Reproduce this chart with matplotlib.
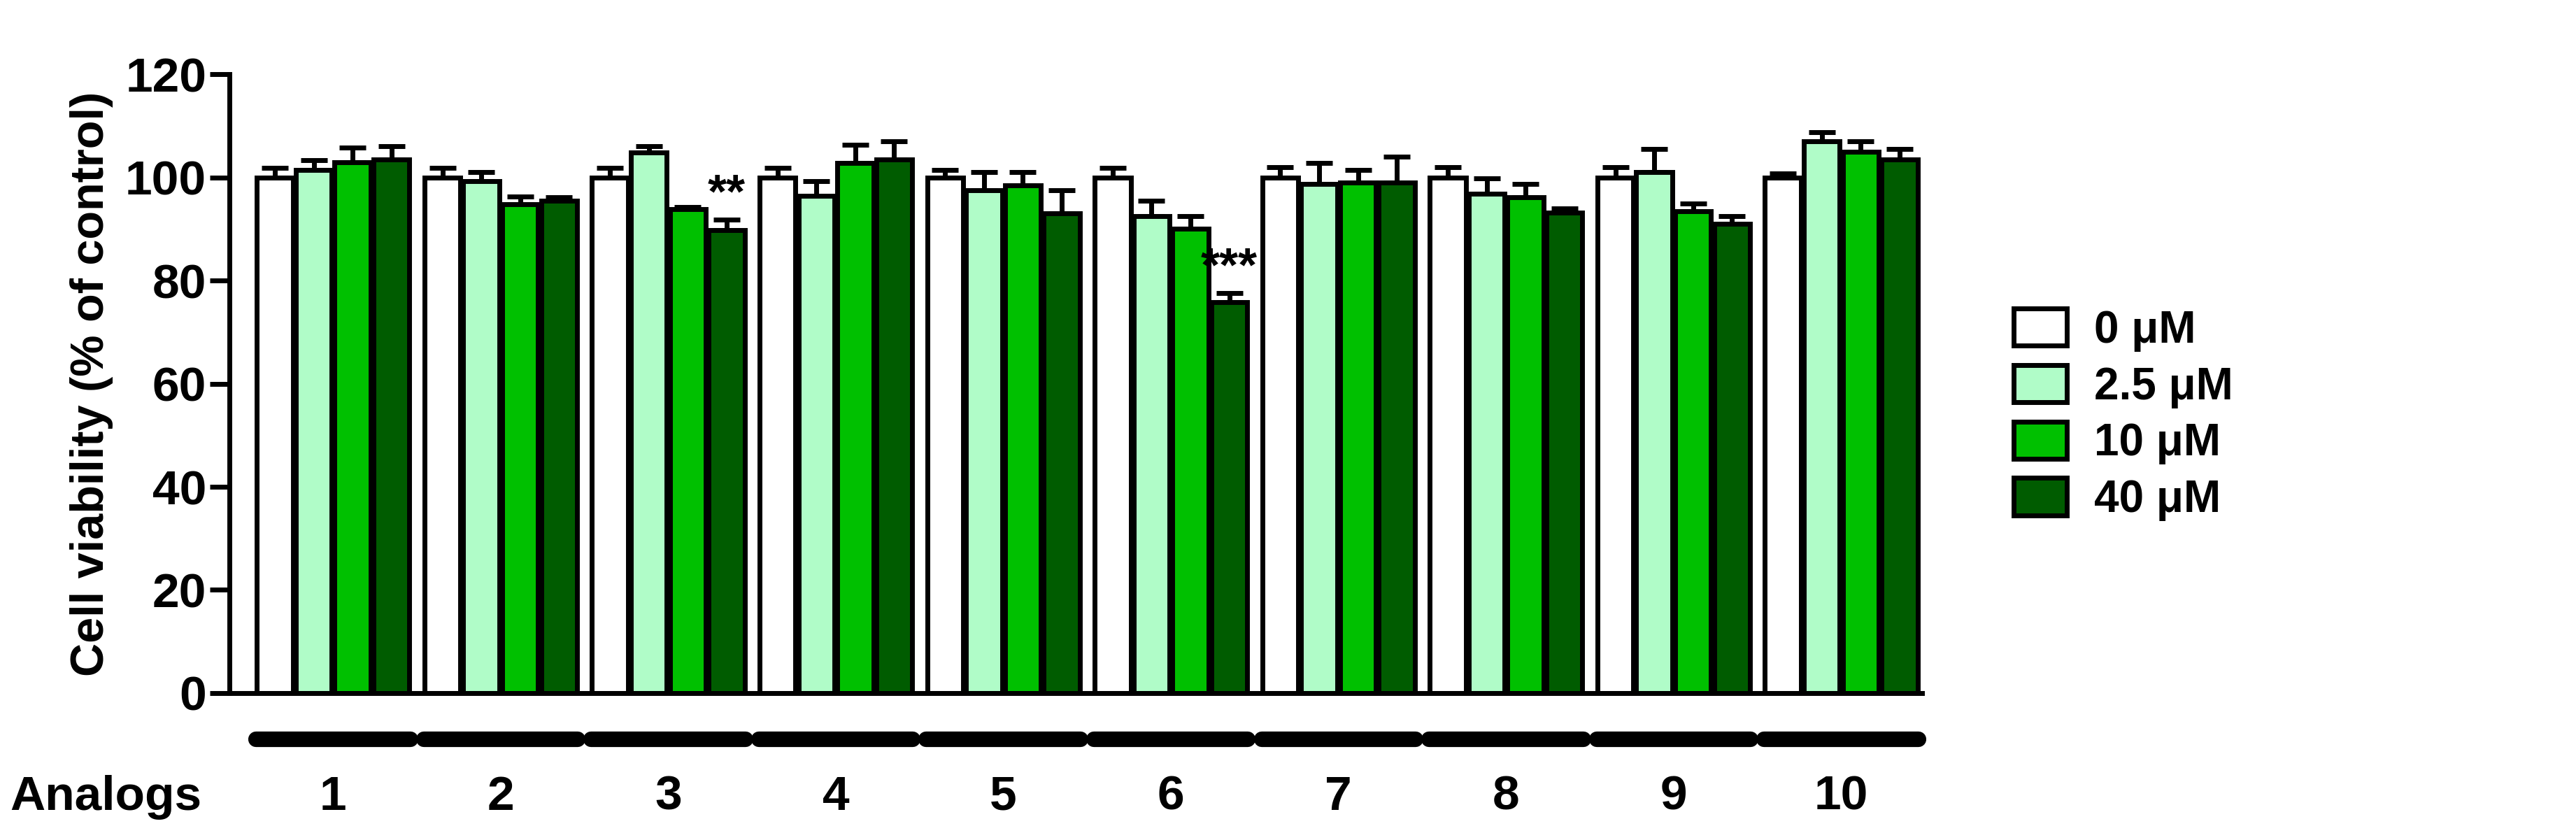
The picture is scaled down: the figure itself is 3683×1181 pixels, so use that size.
import numpy as np
import matplotlib.pyplot as plt
from matplotlib.transforms import blended_transform_factory

plt.rcParams['font.family'] = ['Liberation Sans', 'DejaVu Sans']
plt.rcParams['font.weight'] = 'bold'
plt.rcParams['axes.labelweight'] = 'bold'

analogs = ['1', '2', '3', '4', '5', '6', '7', '8', '9', '10']
doses = ['0 μM', '2.5 μM', '10 μM', '40 μM']
colors = ['#ffffff', '#b0fcc8', '#00c000', '#005c00']

v0 = [100, 100, 100, 100, 100, 100, 100, 100, 100, 100]
v25 = [101.5, 99.3, 104.8, 96.5, 97.5, 92.5, 98.8, 96.8, 101, 107]
v10 = [103, 94.8, 93.8, 102.8, 98.5, 90, 99, 96.2, 93.5, 105]
v40 = [103.5, 95.5, 89.8, 103.5, 93, 75.8, 99, 93.2, 91, 103.5]
e0 = [1.8, 1.8, 1.8, 1.8, 1.5, 1.8, 2, 2, 2, 0.8]
e25 = [1.8, 1.8, 1.3, 2.8, 3.5, 3, 4, 3, 4.5, 1.8]
e10 = [2.8, 1.5, 0.4, 3.5, 2.5, 2.5, 2.5, 2.5, 1.5, 2]
e40 = [2.5, 0.6, 2, 3.5, 4.5, 1.8, 5, 0.8, 1.5, 2]
stars = {(2, 3): '**', (5, 3): '***'}

values = [v0, v25, v10, v40]
errors = [e0, e25, e10, e40]

fig = plt.figure(figsize=(36.83, 11.81), dpi=100)
ax = fig.add_axes([0.089, 0.161, 0.657, 0.749])

x = np.arange(len(analogs))
w = 0.215
for j in range(4):
    xs = x + (j - 1.5) * 0.232
    ax.bar(xs, values[j], w, color=colors[j], edgecolor='black', linewidth=5,
           label=doses[j], zorder=2)
    ax.errorbar(xs, values[j], yerr=[np.zeros(len(x)), errors[j]], fmt='none',
                ecolor='black', elinewidth=5, capsize=14, capthick=5, zorder=1)
    for i in range(len(x)):
        if (i, j) in stars:
            ax.text(xs[i], values[j][i] + errors[j][i] + 0.5, stars[(i, j)],
                    ha='center', va='bottom', fontsize=50)

ax.set_xlim(-0.62, 9.48)
ax.set_ylim(0, 120)
ax.set_yticks(range(0, 121, 20))
ax.tick_params(axis='y', labelsize=50, width=5, length=20)
ax.set_xticks([])
for s in ['top', 'right']:
    ax.spines[s].set_visible(False)
for s in ['left', 'bottom']:
    ax.spines[s].set_linewidth(5)
ax.set_ylabel('Cell viability (% of control)', fontsize=48, labelpad=12)

tr = blended_transform_factory(ax.transData, fig.transFigure)
for i in range(len(x)):
    ax.plot([x[i] - 0.46, x[i] + 0.46], [0.105, 0.105], transform=tr, color='black',
            linewidth=16, solid_capstyle='round', clip_on=False)
    ax.text(x[i], 0.035, analogs[i], transform=tr, ha='center', va='center', fontsize=50)
fig.text(0.004, 0.035, 'Analogs', ha='left', va='center', fontsize=50)

leg = fig.legend(loc='upper left', bbox_to_anchor=(0.766, 0.675), frameon=False, fontsize=46,
                 handlelength=1.2, handleheight=0.9, labelspacing=0.3, handletextpad=0.6)
for p in leg.get_patches():
    p.set_linewidth(5)

fig.savefig('out.png', dpi=100)
